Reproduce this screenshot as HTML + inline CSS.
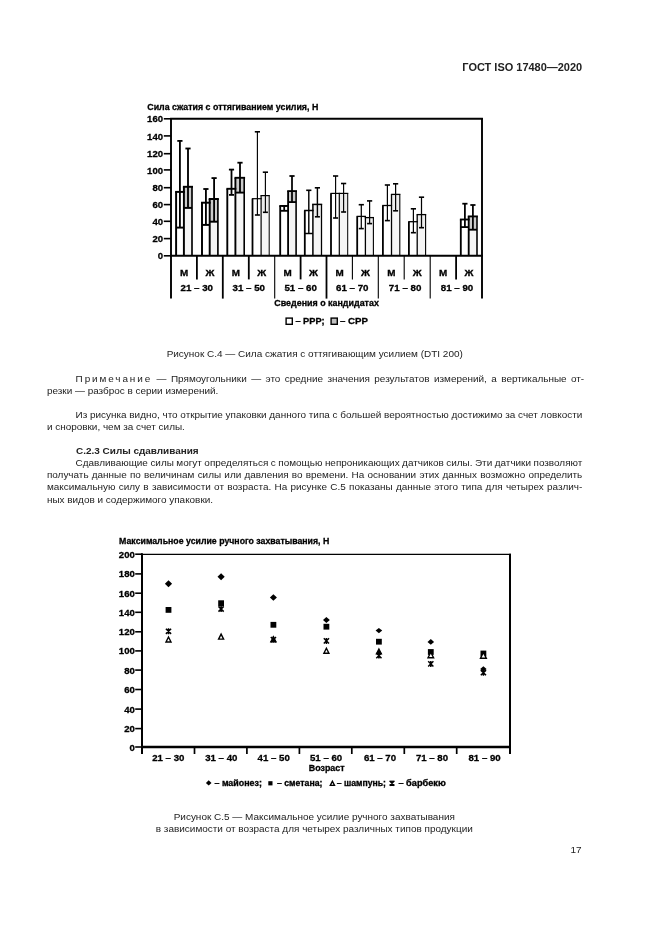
<!DOCTYPE html>
<html lang="ru"><head><meta charset="utf-8"><title>ГОСТ ISO 17480—2020</title>
<style>
html,body{margin:0;padding:0;background:#fff;}
body{width:661px;height:935px;position:relative;overflow:hidden;will-change:transform;opacity:0.999;font-family:"Liberation Sans", sans-serif;color:#222;}
.ln{position:absolute;white-space:nowrap;font-size:9.95px;line-height:12px;height:12px;}
.cap{font-size:9.98px;}
.j{white-space:nowrap;}
.c{text-align:center;}
.r{text-align:right;}
.b{font-weight:bold;}
.sp{letter-spacing:1.9px;}
svg{position:absolute;left:0;top:0;}
svg text{font-family:"Liberation Sans", sans-serif;fill:#000;stroke:#000;stroke-width:0.3px;}
</style></head><body>
<div class="ln r b" style="top:59.7px;left:382.2px;width:200px;font-size:10.98px;line-height:14px;height:14px;color:#222;">ГОСТ ISO 17480—2020</div>
<svg width="661" height="935" viewBox="0 0 661 935">
<rect x="183.9" y="186.8" width="8.1" height="69.0" fill="#f5f5f5"/>
<rect x="183.9" y="186.8" width="8.1" height="21.1" fill="#cbcbcb"/>
<rect x="209.7" y="199.0" width="8.2" height="56.8" fill="#f5f5f5"/>
<rect x="209.7" y="199.0" width="8.2" height="22.7" fill="#cbcbcb"/>
<rect x="235.4" y="177.8" width="8.8" height="78.0" fill="#f5f5f5"/>
<rect x="235.4" y="177.8" width="8.8" height="14.8" fill="#cbcbcb"/>
<rect x="261.1" y="195.6" width="8.1" height="60.2" fill="#f5f5f5"/>
<rect x="261.1" y="195.6" width="8.1" height="16.7" fill="#ececec"/>
<rect x="288.1" y="191.1" width="8.0" height="64.7" fill="#f5f5f5"/>
<rect x="288.1" y="191.1" width="8.0" height="11.0" fill="#cbcbcb"/>
<rect x="312.9" y="204.4" width="8.6" height="51.4" fill="#f5f5f5"/>
<rect x="312.9" y="204.4" width="8.6" height="12.4" fill="#ececec"/>
<rect x="339.3" y="193.4" width="8.4" height="62.4" fill="#f5f5f5"/>
<rect x="339.3" y="193.4" width="8.4" height="18.6" fill="#ececec"/>
<rect x="365.4" y="217.6" width="8.0" height="38.2" fill="#f5f5f5"/>
<rect x="365.4" y="217.6" width="8.0" height="6.0" fill="#ececec"/>
<rect x="391.5" y="194.4" width="8.3" height="61.4" fill="#f5f5f5"/>
<rect x="391.5" y="194.4" width="8.3" height="16.4" fill="#ececec"/>
<rect x="417.2" y="214.6" width="8.4" height="41.2" fill="#f5f5f5"/>
<rect x="417.2" y="214.6" width="8.4" height="13.1" fill="#ececec"/>
<rect x="468.7" y="216.4" width="8.3" height="39.4" fill="#f5f5f5"/>
<rect x="468.7" y="216.4" width="8.3" height="13.3" fill="#cbcbcb"/>
<line x1="176.1" y1="191.9" x2="176.1" y2="255.8" stroke="#000" stroke-width="1.95"/>
<line x1="175.1" y1="191.9" x2="184.9" y2="191.9" stroke="#000" stroke-width="1.95"/>
<line x1="183.9" y1="186.8" x2="183.9" y2="255.8" stroke="#000" stroke-width="1.95"/>
<line x1="182.9" y1="186.8" x2="193.0" y2="186.8" stroke="#000" stroke-width="1.95"/>
<line x1="192.0" y1="186.8" x2="192.0" y2="255.8" stroke="#000" stroke-width="1.6575"/>
<line x1="179.9" y1="140.9" x2="179.9" y2="227.6" stroke="#000" stroke-width="1.8524999999999998"/>
<line x1="177.3" y1="140.9" x2="182.5" y2="140.9" stroke="#000" stroke-width="1.8524999999999998"/>
<line x1="176.1" y1="227.6" x2="183.9" y2="227.6" stroke="#000" stroke-width="1.95"/>
<line x1="188.0" y1="148.5" x2="188.0" y2="207.9" stroke="#000" stroke-width="1.8524999999999998"/>
<line x1="185.4" y1="148.5" x2="190.6" y2="148.5" stroke="#000" stroke-width="1.8524999999999998"/>
<line x1="183.9" y1="207.9" x2="192.0" y2="207.9" stroke="#000" stroke-width="1.95"/>
<line x1="202.0" y1="202.7" x2="202.0" y2="255.8" stroke="#000" stroke-width="1.95"/>
<line x1="201.0" y1="202.7" x2="210.7" y2="202.7" stroke="#000" stroke-width="1.95"/>
<line x1="209.7" y1="199.0" x2="209.7" y2="255.8" stroke="#000" stroke-width="1.95"/>
<line x1="208.7" y1="199.0" x2="218.9" y2="199.0" stroke="#000" stroke-width="1.95"/>
<line x1="217.9" y1="199.0" x2="217.9" y2="255.8" stroke="#000" stroke-width="1.6575"/>
<line x1="205.9" y1="189.0" x2="205.9" y2="224.9" stroke="#000" stroke-width="1.8524999999999998"/>
<line x1="203.3" y1="189.0" x2="208.5" y2="189.0" stroke="#000" stroke-width="1.8524999999999998"/>
<line x1="202.0" y1="224.9" x2="209.7" y2="224.9" stroke="#000" stroke-width="1.95"/>
<line x1="214.1" y1="178.1" x2="214.1" y2="221.7" stroke="#000" stroke-width="1.8524999999999998"/>
<line x1="211.5" y1="178.1" x2="216.7" y2="178.1" stroke="#000" stroke-width="1.8524999999999998"/>
<line x1="209.7" y1="221.7" x2="217.9" y2="221.7" stroke="#000" stroke-width="1.95"/>
<line x1="227.3" y1="188.8" x2="227.3" y2="255.8" stroke="#000" stroke-width="1.9"/>
<line x1="226.4" y1="188.8" x2="236.3" y2="188.8" stroke="#000" stroke-width="1.9"/>
<line x1="235.4" y1="177.8" x2="235.4" y2="255.8" stroke="#000" stroke-width="1.9"/>
<line x1="234.5" y1="177.8" x2="245.1" y2="177.8" stroke="#000" stroke-width="1.9"/>
<line x1="244.2" y1="177.8" x2="244.2" y2="255.8" stroke="#000" stroke-width="1.615"/>
<line x1="231.5" y1="169.6" x2="231.5" y2="194.9" stroke="#000" stroke-width="1.805"/>
<line x1="228.9" y1="169.6" x2="234.1" y2="169.6" stroke="#000" stroke-width="1.805"/>
<line x1="229.0" y1="194.9" x2="234.0" y2="194.9" stroke="#000" stroke-width="1.805"/>
<line x1="240.0" y1="162.7" x2="240.0" y2="192.6" stroke="#000" stroke-width="1.805"/>
<line x1="237.4" y1="162.7" x2="242.6" y2="162.7" stroke="#000" stroke-width="1.805"/>
<line x1="235.4" y1="192.6" x2="244.2" y2="192.6" stroke="#000" stroke-width="1.9"/>
<line x1="252.5" y1="198.7" x2="252.5" y2="255.8" stroke="#000" stroke-width="1.8"/>
<line x1="251.9" y1="198.7" x2="261.7" y2="198.7" stroke="#000" stroke-width="1.2"/>
<line x1="261.1" y1="195.6" x2="261.1" y2="255.8" stroke="#000" stroke-width="1.2"/>
<line x1="260.5" y1="195.6" x2="269.8" y2="195.6" stroke="#000" stroke-width="1.2"/>
<line x1="269.2" y1="195.6" x2="269.2" y2="255.8" stroke="#000" stroke-width="1.02"/>
<line x1="257.4" y1="131.8" x2="257.4" y2="215.0" stroke="#000" stroke-width="1.15"/>
<line x1="254.8" y1="131.8" x2="260.0" y2="131.8" stroke="#000" stroke-width="1.6"/>
<line x1="254.9" y1="215.0" x2="259.9" y2="215.0" stroke="#000" stroke-width="1.6"/>
<line x1="265.4" y1="172.2" x2="265.4" y2="212.3" stroke="#000" stroke-width="1.15"/>
<line x1="262.8" y1="172.2" x2="268.0" y2="172.2" stroke="#000" stroke-width="1.6"/>
<line x1="262.9" y1="212.3" x2="267.9" y2="212.3" stroke="#000" stroke-width="1.6"/>
<line x1="280.2" y1="205.9" x2="280.2" y2="255.8" stroke="#000" stroke-width="1.85"/>
<line x1="279.3" y1="205.9" x2="289.0" y2="205.9" stroke="#000" stroke-width="1.85"/>
<line x1="288.1" y1="191.1" x2="288.1" y2="255.8" stroke="#000" stroke-width="1.85"/>
<line x1="287.2" y1="191.1" x2="297.0" y2="191.1" stroke="#000" stroke-width="1.85"/>
<line x1="296.1" y1="191.1" x2="296.1" y2="255.8" stroke="#000" stroke-width="1.5725"/>
<line x1="284.2" y1="205.9" x2="284.2" y2="210.8" stroke="#000" stroke-width="1.7575"/>
<line x1="281.6" y1="205.9" x2="286.8" y2="205.9" stroke="#000" stroke-width="1.7575"/>
<line x1="280.2" y1="210.8" x2="288.1" y2="210.8" stroke="#000" stroke-width="1.85"/>
<line x1="292.0" y1="176.0" x2="292.0" y2="202.1" stroke="#000" stroke-width="1.7575"/>
<line x1="289.4" y1="176.0" x2="294.6" y2="176.0" stroke="#000" stroke-width="1.7575"/>
<line x1="288.1" y1="202.1" x2="296.1" y2="202.1" stroke="#000" stroke-width="1.85"/>
<line x1="304.8" y1="210.5" x2="304.8" y2="255.8" stroke="#000" stroke-width="1.8"/>
<line x1="304.1" y1="210.5" x2="313.6" y2="210.5" stroke="#000" stroke-width="1.5"/>
<line x1="312.9" y1="204.4" x2="312.9" y2="255.8" stroke="#000" stroke-width="1.5"/>
<line x1="312.1" y1="204.4" x2="322.2" y2="204.4" stroke="#000" stroke-width="1.5"/>
<line x1="321.5" y1="204.4" x2="321.5" y2="255.8" stroke="#000" stroke-width="1.275"/>
<line x1="308.8" y1="190.3" x2="308.8" y2="233.5" stroke="#000" stroke-width="1.4249999999999998"/>
<line x1="306.2" y1="190.3" x2="311.4" y2="190.3" stroke="#000" stroke-width="1.6"/>
<line x1="304.8" y1="233.5" x2="312.9" y2="233.5" stroke="#000" stroke-width="1.5"/>
<line x1="317.4" y1="187.8" x2="317.4" y2="216.8" stroke="#000" stroke-width="1.4249999999999998"/>
<line x1="314.8" y1="187.8" x2="320.0" y2="187.8" stroke="#000" stroke-width="1.6"/>
<line x1="314.9" y1="216.8" x2="319.9" y2="216.8" stroke="#000" stroke-width="1.6"/>
<line x1="331.0" y1="193.4" x2="331.0" y2="255.8" stroke="#000" stroke-width="1.8"/>
<line x1="330.4" y1="193.4" x2="339.9" y2="193.4" stroke="#000" stroke-width="1.2"/>
<line x1="339.3" y1="193.4" x2="339.3" y2="255.8" stroke="#000" stroke-width="1.2"/>
<line x1="338.7" y1="193.4" x2="348.3" y2="193.4" stroke="#000" stroke-width="1.2"/>
<line x1="347.7" y1="193.4" x2="347.7" y2="255.8" stroke="#000" stroke-width="1.02"/>
<line x1="335.6" y1="176.0" x2="335.6" y2="218.0" stroke="#000" stroke-width="1.15"/>
<line x1="333.0" y1="176.0" x2="338.2" y2="176.0" stroke="#000" stroke-width="1.6"/>
<line x1="333.1" y1="218.0" x2="338.1" y2="218.0" stroke="#000" stroke-width="1.6"/>
<line x1="343.6" y1="183.5" x2="343.6" y2="212.0" stroke="#000" stroke-width="1.15"/>
<line x1="341.0" y1="183.5" x2="346.2" y2="183.5" stroke="#000" stroke-width="1.6"/>
<line x1="341.1" y1="212.0" x2="346.1" y2="212.0" stroke="#000" stroke-width="1.6"/>
<line x1="357.2" y1="216.4" x2="357.2" y2="255.8" stroke="#000" stroke-width="1.8"/>
<line x1="356.6" y1="216.4" x2="366.0" y2="216.4" stroke="#000" stroke-width="1.3"/>
<line x1="365.4" y1="216.4" x2="365.4" y2="255.8" stroke="#000" stroke-width="1.3"/>
<line x1="364.8" y1="217.6" x2="374.0" y2="217.6" stroke="#000" stroke-width="1.3"/>
<line x1="373.4" y1="217.6" x2="373.4" y2="255.8" stroke="#000" stroke-width="1.105"/>
<line x1="361.3" y1="204.7" x2="361.3" y2="228.6" stroke="#000" stroke-width="1.2349999999999999"/>
<line x1="358.7" y1="204.7" x2="363.9" y2="204.7" stroke="#000" stroke-width="1.6"/>
<line x1="358.8" y1="228.6" x2="363.8" y2="228.6" stroke="#000" stroke-width="1.6"/>
<line x1="369.6" y1="200.9" x2="369.6" y2="223.6" stroke="#000" stroke-width="1.2349999999999999"/>
<line x1="367.0" y1="200.9" x2="372.2" y2="200.9" stroke="#000" stroke-width="1.6"/>
<line x1="367.1" y1="223.6" x2="372.1" y2="223.6" stroke="#000" stroke-width="1.6"/>
<line x1="382.9" y1="205.5" x2="382.9" y2="255.8" stroke="#000" stroke-width="1.8"/>
<line x1="382.2" y1="205.5" x2="392.1" y2="205.5" stroke="#000" stroke-width="1.3"/>
<line x1="391.5" y1="194.4" x2="391.5" y2="255.8" stroke="#000" stroke-width="1.3"/>
<line x1="390.9" y1="194.4" x2="400.4" y2="194.4" stroke="#000" stroke-width="1.3"/>
<line x1="399.8" y1="194.4" x2="399.8" y2="255.8" stroke="#000" stroke-width="1.105"/>
<line x1="387.4" y1="185.0" x2="387.4" y2="220.6" stroke="#000" stroke-width="1.2349999999999999"/>
<line x1="384.8" y1="185.0" x2="390.0" y2="185.0" stroke="#000" stroke-width="1.6"/>
<line x1="384.9" y1="220.6" x2="389.9" y2="220.6" stroke="#000" stroke-width="1.6"/>
<line x1="395.6" y1="183.8" x2="395.6" y2="210.8" stroke="#000" stroke-width="1.2349999999999999"/>
<line x1="393.0" y1="183.8" x2="398.2" y2="183.8" stroke="#000" stroke-width="1.6"/>
<line x1="393.1" y1="210.8" x2="398.1" y2="210.8" stroke="#000" stroke-width="1.6"/>
<line x1="408.9" y1="221.7" x2="408.9" y2="255.8" stroke="#000" stroke-width="1.8"/>
<line x1="408.2" y1="221.7" x2="417.8" y2="221.7" stroke="#000" stroke-width="1.3"/>
<line x1="417.2" y1="214.6" x2="417.2" y2="255.8" stroke="#000" stroke-width="1.3"/>
<line x1="416.6" y1="214.6" x2="426.2" y2="214.6" stroke="#000" stroke-width="1.3"/>
<line x1="425.6" y1="214.6" x2="425.6" y2="255.8" stroke="#000" stroke-width="1.105"/>
<line x1="413.4" y1="208.8" x2="413.4" y2="232.7" stroke="#000" stroke-width="1.2349999999999999"/>
<line x1="410.8" y1="208.8" x2="416.0" y2="208.8" stroke="#000" stroke-width="1.6"/>
<line x1="410.9" y1="232.7" x2="415.9" y2="232.7" stroke="#000" stroke-width="1.6"/>
<line x1="421.5" y1="197.2" x2="421.5" y2="227.7" stroke="#000" stroke-width="1.2349999999999999"/>
<line x1="418.9" y1="197.2" x2="424.1" y2="197.2" stroke="#000" stroke-width="1.6"/>
<line x1="419.0" y1="227.7" x2="424.0" y2="227.7" stroke="#000" stroke-width="1.6"/>
<line x1="460.8" y1="219.5" x2="460.8" y2="255.8" stroke="#000" stroke-width="1.85"/>
<line x1="459.9" y1="219.5" x2="469.6" y2="219.5" stroke="#000" stroke-width="1.85"/>
<line x1="468.7" y1="216.4" x2="468.7" y2="255.8" stroke="#000" stroke-width="1.85"/>
<line x1="467.8" y1="216.4" x2="477.9" y2="216.4" stroke="#000" stroke-width="1.85"/>
<line x1="477.0" y1="216.4" x2="477.0" y2="255.8" stroke="#000" stroke-width="1.5725"/>
<line x1="464.9" y1="203.7" x2="464.9" y2="227.1" stroke="#000" stroke-width="1.7575"/>
<line x1="462.3" y1="203.7" x2="467.5" y2="203.7" stroke="#000" stroke-width="1.7575"/>
<line x1="460.8" y1="227.1" x2="468.7" y2="227.1" stroke="#000" stroke-width="1.85"/>
<line x1="472.9" y1="205.0" x2="472.9" y2="229.7" stroke="#000" stroke-width="1.7575"/>
<line x1="470.3" y1="205.0" x2="475.5" y2="205.0" stroke="#000" stroke-width="1.7575"/>
<line x1="468.7" y1="229.7" x2="477.0" y2="229.7" stroke="#000" stroke-width="1.85"/>
<line x1="171.0" y1="117.9" x2="171.0" y2="298.6" stroke="#000" stroke-width="1.9"/>
<line x1="170.1" y1="118.8" x2="482.9" y2="118.8" stroke="#000" stroke-width="1.9"/>
<line x1="482.0" y1="117.9" x2="482.0" y2="298.6" stroke="#000" stroke-width="1.9"/>
<line x1="170.1" y1="255.8" x2="482.9" y2="255.8" stroke="#000" stroke-width="1.9"/>
<line x1="163.8" y1="255.8" x2="171.0" y2="255.8" stroke="#000" stroke-width="1.6"/>
<text transform="translate(163.0 259.4) scale(0.965 1)" font-size="9.9" text-anchor="end" font-weight="bold">0</text>
<line x1="163.8" y1="238.6" x2="171.0" y2="238.6" stroke="#000" stroke-width="1.6"/>
<text transform="translate(163.0 242.2) scale(0.965 1)" font-size="9.9" text-anchor="end" font-weight="bold">20</text>
<line x1="163.8" y1="221.3" x2="171.0" y2="221.3" stroke="#000" stroke-width="1.6"/>
<text transform="translate(163.0 224.9) scale(0.965 1)" font-size="9.9" text-anchor="end" font-weight="bold">40</text>
<line x1="163.8" y1="204.6" x2="171.0" y2="204.6" stroke="#000" stroke-width="1.6"/>
<text transform="translate(163.0 208.2) scale(0.965 1)" font-size="9.9" text-anchor="end" font-weight="bold">60</text>
<line x1="163.8" y1="187.7" x2="171.0" y2="187.7" stroke="#000" stroke-width="1.6"/>
<text transform="translate(163.0 191.2) scale(0.965 1)" font-size="9.9" text-anchor="end" font-weight="bold">80</text>
<line x1="163.8" y1="169.9" x2="171.0" y2="169.9" stroke="#000" stroke-width="1.6"/>
<text transform="translate(163.0 173.5) scale(0.965 1)" font-size="9.9" text-anchor="end" font-weight="bold">100</text>
<line x1="163.8" y1="153.7" x2="171.0" y2="153.7" stroke="#000" stroke-width="1.6"/>
<text transform="translate(163.0 157.2) scale(0.965 1)" font-size="9.9" text-anchor="end" font-weight="bold">120</text>
<line x1="163.8" y1="135.9" x2="171.0" y2="135.9" stroke="#000" stroke-width="1.6"/>
<text transform="translate(163.0 139.5) scale(0.965 1)" font-size="9.9" text-anchor="end" font-weight="bold">140</text>
<line x1="163.8" y1="118.8" x2="171.0" y2="118.8" stroke="#000" stroke-width="1.6"/>
<text transform="translate(163.0 122.3) scale(0.965 1)" font-size="9.9" text-anchor="end" font-weight="bold">160</text>
<line x1="196.9" y1="255.8" x2="196.9" y2="279.4" stroke="#000" stroke-width="1.8"/>
<line x1="222.8" y1="255.8" x2="222.8" y2="298.6" stroke="#000" stroke-width="1.8"/>
<line x1="248.8" y1="255.8" x2="248.8" y2="279.4" stroke="#000" stroke-width="1.8"/>
<line x1="274.7" y1="255.8" x2="274.7" y2="298.6" stroke="#000" stroke-width="1.1"/>
<line x1="300.6" y1="255.8" x2="300.6" y2="279.4" stroke="#000" stroke-width="1.8"/>
<line x1="326.5" y1="255.8" x2="326.5" y2="298.6" stroke="#000" stroke-width="1.8"/>
<line x1="352.4" y1="255.8" x2="352.4" y2="279.4" stroke="#000" stroke-width="1.1"/>
<line x1="378.3" y1="255.8" x2="378.3" y2="298.6" stroke="#000" stroke-width="1.1"/>
<line x1="404.2" y1="255.8" x2="404.2" y2="279.4" stroke="#000" stroke-width="1.1"/>
<line x1="430.2" y1="255.8" x2="430.2" y2="298.6" stroke="#000" stroke-width="1.1"/>
<line x1="456.1" y1="255.8" x2="456.1" y2="279.4" stroke="#000" stroke-width="1.8"/>
<text transform="translate(184.0 276.4) scale(1.0 1)" font-size="9.9" text-anchor="middle" font-weight="bold">М</text>
<text transform="translate(209.9 276.4) scale(1.0 1)" font-size="9.9" text-anchor="middle" font-weight="bold">Ж</text>
<text transform="translate(235.8 276.4) scale(1.0 1)" font-size="9.9" text-anchor="middle" font-weight="bold">М</text>
<text transform="translate(261.7 276.4) scale(1.0 1)" font-size="9.9" text-anchor="middle" font-weight="bold">Ж</text>
<text transform="translate(287.6 276.4) scale(1.0 1)" font-size="9.9" text-anchor="middle" font-weight="bold">М</text>
<text transform="translate(313.5 276.4) scale(1.0 1)" font-size="9.9" text-anchor="middle" font-weight="bold">Ж</text>
<text transform="translate(339.5 276.4) scale(1.0 1)" font-size="9.9" text-anchor="middle" font-weight="bold">М</text>
<text transform="translate(365.4 276.4) scale(1.0 1)" font-size="9.9" text-anchor="middle" font-weight="bold">Ж</text>
<text transform="translate(391.3 276.4) scale(1.0 1)" font-size="9.9" text-anchor="middle" font-weight="bold">М</text>
<text transform="translate(417.2 276.4) scale(1.0 1)" font-size="9.9" text-anchor="middle" font-weight="bold">Ж</text>
<text transform="translate(443.1 276.4) scale(1.0 1)" font-size="9.9" text-anchor="middle" font-weight="bold">М</text>
<text transform="translate(469.0 276.4) scale(1.0 1)" font-size="9.9" text-anchor="middle" font-weight="bold">Ж</text>
<text x="196.8" y="291.0" font-size="9.9" text-anchor="middle" font-weight="bold" textLength="32.5" lengthAdjust="spacingAndGlyphs">21 – 30</text>
<text x="248.8" y="291.0" font-size="9.9" text-anchor="middle" font-weight="bold" textLength="32.5" lengthAdjust="spacingAndGlyphs">31 – 50</text>
<text x="300.7" y="291.0" font-size="9.9" text-anchor="middle" font-weight="bold" textLength="32.5" lengthAdjust="spacingAndGlyphs">51 – 60</text>
<text x="352.3" y="291.0" font-size="9.9" text-anchor="middle" font-weight="bold" textLength="32.5" lengthAdjust="spacingAndGlyphs">61 – 70</text>
<text x="405.1" y="291.0" font-size="9.9" text-anchor="middle" font-weight="bold" textLength="32.5" lengthAdjust="spacingAndGlyphs">71 – 80</text>
<text x="457.0" y="291.0" font-size="9.9" text-anchor="middle" font-weight="bold" textLength="32.5" lengthAdjust="spacingAndGlyphs">81 – 90</text>
<text x="147.3" y="109.6" font-size="9.9" text-anchor="start" font-weight="bold" textLength="171" lengthAdjust="spacingAndGlyphs">Сила сжатия с оттягиванием усилия, Н</text>
<text x="326.6" y="305.8" font-size="9.7" text-anchor="middle" font-weight="bold" textLength="104.5" lengthAdjust="spacingAndGlyphs">Сведения о кандидатах</text>
<rect x="286.1" y="318.1" width="6.2" height="6.2" fill="#fff" stroke="#000" stroke-width="1.4"/>
<text x="295.4" y="323.6" font-size="9.9" text-anchor="start" font-weight="bold" textLength="29.2" lengthAdjust="spacingAndGlyphs">– РРР;</text>
<rect x="331.1" y="318.1" width="6.2" height="6.2" fill="#c0c0c0" stroke="#000" stroke-width="1.4"/>
<text x="340.0" y="323.6" font-size="9.9" text-anchor="start" font-weight="bold" textLength="28" lengthAdjust="spacingAndGlyphs">– СРР</text>
<line x1="142.0" y1="553.3" x2="142.0" y2="754.0" stroke="#000" stroke-width="2.0"/>
<line x1="141.0" y1="554.4" x2="511.0" y2="554.4" stroke="#000" stroke-width="1.35"/>
<line x1="510.0" y1="553.7" x2="510.0" y2="754.0" stroke="#000" stroke-width="2.0"/>
<line x1="141.0" y1="747.0" x2="511.0" y2="747.0" stroke="#000" stroke-width="2.3"/>
<line x1="135.2" y1="747.0" x2="142.0" y2="747.0" stroke="#000" stroke-width="1.6"/>
<text transform="translate(134.8 750.5) scale(0.965 1)" font-size="9.9" text-anchor="end" font-weight="bold">0</text>
<line x1="135.2" y1="728.6" x2="142.0" y2="728.6" stroke="#000" stroke-width="1.6"/>
<text transform="translate(134.8 732.1) scale(0.965 1)" font-size="9.9" text-anchor="end" font-weight="bold">20</text>
<line x1="135.2" y1="709.1" x2="142.0" y2="709.1" stroke="#000" stroke-width="1.6"/>
<text transform="translate(134.8 712.6) scale(0.965 1)" font-size="9.9" text-anchor="end" font-weight="bold">40</text>
<line x1="135.2" y1="689.5" x2="142.0" y2="689.5" stroke="#000" stroke-width="1.6"/>
<text transform="translate(134.8 693.0) scale(0.965 1)" font-size="9.9" text-anchor="end" font-weight="bold">60</text>
<line x1="135.2" y1="670.1" x2="142.0" y2="670.1" stroke="#000" stroke-width="1.6"/>
<text transform="translate(134.8 673.6) scale(0.965 1)" font-size="9.9" text-anchor="end" font-weight="bold">80</text>
<line x1="135.2" y1="650.9" x2="142.0" y2="650.9" stroke="#000" stroke-width="1.6"/>
<text transform="translate(134.8 654.4) scale(0.965 1)" font-size="9.9" text-anchor="end" font-weight="bold">100</text>
<line x1="135.2" y1="631.8" x2="142.0" y2="631.8" stroke="#000" stroke-width="1.6"/>
<text transform="translate(134.8 635.3) scale(0.965 1)" font-size="9.9" text-anchor="end" font-weight="bold">120</text>
<line x1="135.2" y1="612.3" x2="142.0" y2="612.3" stroke="#000" stroke-width="1.6"/>
<text transform="translate(134.8 615.8) scale(0.965 1)" font-size="9.9" text-anchor="end" font-weight="bold">140</text>
<line x1="135.2" y1="593.2" x2="142.0" y2="593.2" stroke="#000" stroke-width="1.6"/>
<text transform="translate(134.8 596.8) scale(0.965 1)" font-size="9.9" text-anchor="end" font-weight="bold">160</text>
<line x1="135.2" y1="573.9" x2="142.0" y2="573.9" stroke="#000" stroke-width="1.6"/>
<text transform="translate(134.8 577.4) scale(0.965 1)" font-size="9.9" text-anchor="end" font-weight="bold">180</text>
<line x1="135.2" y1="554.2" x2="142.0" y2="554.2" stroke="#000" stroke-width="1.6"/>
<text transform="translate(134.8 557.8) scale(0.965 1)" font-size="9.9" text-anchor="end" font-weight="bold">200</text>
<line x1="194.5" y1="747.0" x2="194.5" y2="754.0" stroke="#000" stroke-width="1.7"/>
<line x1="246.9" y1="747.0" x2="246.9" y2="754.0" stroke="#000" stroke-width="1.7"/>
<line x1="299.4" y1="747.0" x2="299.4" y2="754.0" stroke="#000" stroke-width="1.7"/>
<line x1="351.8" y1="747.0" x2="351.8" y2="754.0" stroke="#000" stroke-width="1.7"/>
<line x1="404.3" y1="747.0" x2="404.3" y2="754.0" stroke="#000" stroke-width="1.7"/>
<line x1="456.7" y1="747.0" x2="456.7" y2="754.0" stroke="#000" stroke-width="1.7"/>
<text x="168.3" y="760.9" font-size="9.9" text-anchor="middle" font-weight="bold" textLength="32.2" lengthAdjust="spacingAndGlyphs">21 – 30</text>
<text x="221.3" y="760.9" font-size="9.9" text-anchor="middle" font-weight="bold" textLength="32.2" lengthAdjust="spacingAndGlyphs">31 – 40</text>
<text x="273.7" y="760.9" font-size="9.9" text-anchor="middle" font-weight="bold" textLength="32.2" lengthAdjust="spacingAndGlyphs">41 – 50</text>
<text x="326.1" y="760.9" font-size="9.9" text-anchor="middle" font-weight="bold" textLength="32.2" lengthAdjust="spacingAndGlyphs">51 – 60</text>
<text x="380.0" y="760.9" font-size="9.9" text-anchor="middle" font-weight="bold" textLength="32.2" lengthAdjust="spacingAndGlyphs">61 – 70</text>
<text x="432.0" y="760.9" font-size="9.9" text-anchor="middle" font-weight="bold" textLength="32.2" lengthAdjust="spacingAndGlyphs">71 – 80</text>
<text x="484.6" y="760.9" font-size="9.9" text-anchor="middle" font-weight="bold" textLength="32.2" lengthAdjust="spacingAndGlyphs">81 – 90</text>
<text x="119.1" y="543.8" font-size="9.9" text-anchor="start" font-weight="bold" textLength="210.2" lengthAdjust="spacingAndGlyphs">Максимальное усилие ручного захватывания, Н</text>
<text x="326.7" y="770.8" font-size="9.7" text-anchor="middle" font-weight="bold" textLength="35.8" lengthAdjust="spacingAndGlyphs">Возраст</text>
<rect x="165.6" y="607.0" width="5.8" height="5.8" fill="#000"/>
<path d="M168.5 637.0L171.0 642.0L166.0 642.0Z" fill="#fff" stroke="#000" stroke-width="1.4" stroke-linejoin="miter"/>
<path d="M165.9 628.7L171.1 633.9M171.1 628.7L165.9 633.9M168.5 628.3L168.5 634.3" fill="none" stroke="#000" stroke-width="1.5"/>
<path d="M168.5 580.2L172.1 583.7L168.5 587.2L164.9 583.7Z" fill="#000"/>
<rect x="218.2" y="600.3" width="5.8" height="5.8" fill="#000"/>
<path d="M221.1 634.1L223.6 639.1L218.6 639.1Z" fill="#fff" stroke="#000" stroke-width="1.4" stroke-linejoin="miter"/>
<path d="M218.5 606.4L223.7 611.6M223.7 606.4L218.5 611.6M221.1 606.0L221.1 612.0" fill="none" stroke="#000" stroke-width="1.5"/>
<path d="M221.1 573.3L224.7 576.8L221.1 580.3L217.5 576.8Z" fill="#000"/>
<rect x="270.5" y="621.9" width="5.8" height="5.8" fill="#000"/>
<path d="M273.4 636.7L275.9 641.7L270.9 641.7Z" fill="#000" stroke="#000" stroke-width="1.4" stroke-linejoin="miter"/>
<path d="M270.8 637.0L276.0 642.2M276.0 637.0L270.8 642.2M273.4 636.6L273.4 642.6" fill="none" stroke="#000" stroke-width="1.5"/>
<path d="M273.4 594.2L276.9 597.5L273.4 600.8L269.9 597.5Z" fill="#000"/>
<rect x="323.5" y="623.8" width="5.8" height="5.8" fill="#000"/>
<path d="M326.4 648.2L328.9 653.2L323.9 653.2Z" fill="#fff" stroke="#000" stroke-width="1.4" stroke-linejoin="miter"/>
<path d="M323.8 638.3L329.0 643.5M329.0 638.3L323.8 643.5M326.4 637.9L326.4 643.9" fill="none" stroke="#000" stroke-width="1.5"/>
<path d="M326.4 617.0L329.8 620.0L326.4 623.0L323.0 620.0Z" fill="#000"/>
<rect x="376.0" y="638.8" width="5.8" height="5.8" fill="#000"/>
<path d="M378.9 649.0L381.3 653.8L376.5 653.8Z" fill="#000" stroke="#000" stroke-width="1.4" stroke-linejoin="miter"/>
<path d="M376.3 653.0L381.5 658.2M381.5 653.0L376.3 658.2M378.9 652.6L378.9 658.6" fill="none" stroke="#000" stroke-width="1.5"/>
<path d="M378.9 627.9L382.2 630.6L378.9 633.3L375.6 630.6Z" fill="#000"/>
<rect x="427.9" y="649.1" width="5.8" height="5.8" fill="#000"/>
<path d="M430.8 652.2L433.6 657.8L428.0 657.8Z" fill="#fff" stroke="#000" stroke-width="1.4" stroke-linejoin="miter"/>
<path d="M428.2 661.3L433.4 666.5M433.4 661.3L428.2 666.5M430.8 660.9L430.8 666.9" fill="none" stroke="#000" stroke-width="1.5"/>
<path d="M430.8 639.0L434.1 641.9L430.8 644.8L427.5 641.9Z" fill="#000"/>
<rect x="480.5" y="650.6" width="5.8" height="5.8" fill="#000"/>
<path d="M483.4 652.4L486.3 658.2L480.5 658.2Z" fill="#fff" stroke="#000" stroke-width="1.4" stroke-linejoin="miter"/>
<path d="M480.8 670.1L486.0 675.3M486.0 670.1L480.8 675.3M483.4 669.7L483.4 675.7" fill="none" stroke="#000" stroke-width="1.5"/>
<path d="M483.4 666.2L486.6 669.0L483.4 671.8L480.2 669.0Z" fill="#000"/>
<path d="M208.7 780.3L211.5 782.9L208.7 785.5L205.9 782.9Z" fill="#000"/>
<text x="214.5" y="785.7" font-size="8.6" text-anchor="start" font-weight="bold" textLength="47.4" lengthAdjust="spacingAndGlyphs">– майонез;</text>
<rect x="268.3" y="781.2" width="4.2" height="4.2" fill="#000"/>
<text x="277.0" y="785.7" font-size="8.6" text-anchor="start" font-weight="bold" textLength="45.4" lengthAdjust="spacingAndGlyphs">– сметана;</text>
<path d="M332.4 781.2L334.5 785.4L330.3 785.4Z" fill="#fff" stroke="#000" stroke-width="1.4" stroke-linejoin="miter"/>
<text x="336.8" y="785.7" font-size="8.6" text-anchor="start" font-weight="bold" textLength="49.2" lengthAdjust="spacingAndGlyphs">– шампунь;</text>
<path d="M389.6 780.8L394.4 785.6M394.4 780.8L389.6 785.6M392.0 780.4L392.0 786.0" fill="none" stroke="#000" stroke-width="1.5"/>
<text x="398.4" y="785.7" font-size="8.6" text-anchor="start" font-weight="bold" textLength="47.4" lengthAdjust="spacingAndGlyphs">– барбекю</text>
</svg>
<div class="ln c cap" style="top:347.75px;left:46.75px;width:536px;">Рисунок С.4 — Сила сжатия с оттягивающим усилием (DTI 200)</div>
<div class="ln j" style="top:372.7px;left:75.6px;width:506.7px;word-spacing:1.677px;"><span class="sp">Примечание</span> — Прямоугольники — это средние значения результатов измерений, а вертикальные от-</div>
<div class="ln" style="top:384.8px;left:46.9px;">резки — разброс в серии измерений.</div>
<div class="ln j" style="top:409.2px;left:75.6px;width:506.7px;word-spacing:-0.039px;">Из рисунка видно, что открытие упаковки данного типа с большей вероятностью достижимо за счет ловкости</div>
<div class="ln" style="top:421.3px;left:46.9px;">и сноровки, чем за счет силы.</div>
<div class="ln b" style="top:445.2px;left:76.1px;">С.2.3 Силы сдавливания</div>
<div class="ln j" style="top:457.2px;left:75.6px;width:506.7px;word-spacing:-0.264px;">Сдавливающие силы могут определяться с помощью непроникающих датчиков силы. Эти датчики позволяют</div>
<div class="ln j" style="top:469.3px;left:46.9px;width:535.4px;word-spacing:0.467px;">получать данные по величинам силы или давления во времени. На основании этих данных возможно определить</div>
<div class="ln j" style="top:481.4px;left:46.9px;width:535.4px;word-spacing:0.543px;">максимальную силу в зависимости от возраста. На рисунке С.5 показаны данные этого типа для четырех различ-</div>
<div class="ln" style="top:493.5px;left:46.9px;">ных видов и содержимого упаковки.</div>
<div class="ln c cap" style="top:810.5px;left:46.3px;width:536px;">Рисунок С.5 — Максимальное усилие ручного захватывания</div>
<div class="ln c cap" style="top:823.1px;left:46.3px;width:536px;">в зависимости от возраста для четырех различных типов продукции</div>
<div class="ln r" style="top:844.1px;left:481.6px;width:100px;font-size:9.98px;">17</div>
</body></html>
